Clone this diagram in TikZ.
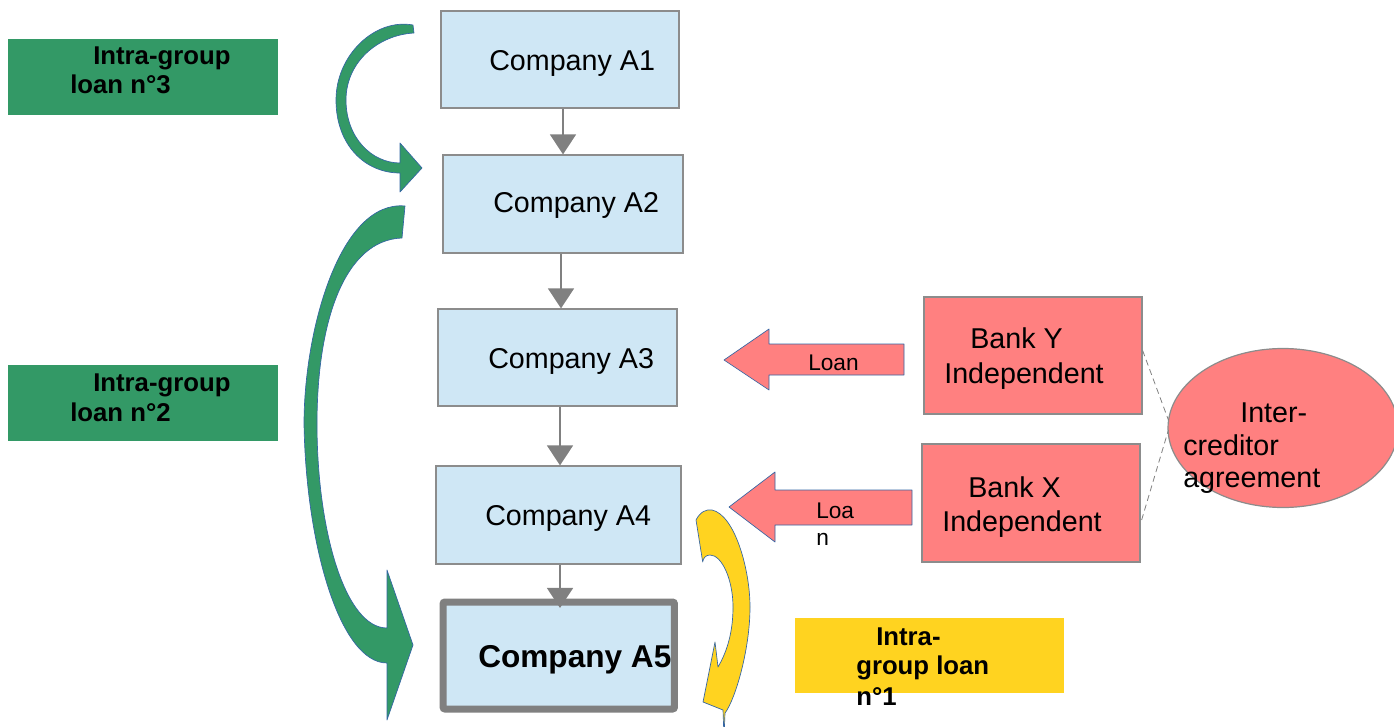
\documentclass[tikz,border=0pt]{standalone}
\usepackage{fontspec}
\setmainfont{Liberation Sans}
\usetikzlibrary{arrows.meta,shapes.geometric,calc}
\definecolor{compfill}{HTML}{CFE7F5}
\definecolor{boxline}{HTML}{8C8C8C}
\definecolor{flowgray}{HTML}{808080}
\definecolor{loangreen}{HTML}{339966}
\definecolor{bankred}{HTML}{FF8080}
\definecolor{loanyellow}{HTML}{FFD320}
\definecolor{shapeline}{HTML}{3465A4}

\begin{document}
\begin{tikzpicture}[x=0.75pt,y=-0.75pt,
  company/.style={draw=boxline, line width=0.9pt, fill=compfill, inner sep=0pt},
  bank/.style={draw=boxline, line width=0.9pt, fill=bankred, inner sep=0pt},
  tagbox/.style={inner sep=0pt, outer sep=0pt},
  txt/.style={anchor=base west, inner sep=0pt, font=\fontsize{21.5pt}{25pt}\selectfont},
  boldtxt/.style={anchor=base west, inner sep=0pt, font=\fontsize{23.7pt}{28pt}\selectfont\bfseries},
  tagtxt/.style={anchor=base west, inner sep=0pt, font=\fontsize{19.3pt}{22pt}\selectfont\bfseries},
  loantxt/.style={anchor=base west, inner sep=0pt, font=\fontsize{17pt}{20pt}\selectfont},
  flow/.style={draw=flowgray, line width=1.1pt, -{Triangle[width=19.5pt,length=15pt]}},
  bigarrow/.style={draw=shapeline, line width=0.5pt, line join=round},
  intercred/.style={draw=flowgray, line width=0.6pt, dash pattern=on 4.5pt off 3pt},
]
\useasboundingbox (0,0) rectangle (1394,727);

% intra-group loan labels
\node[tagbox, fill=loangreen, minimum width=202.5pt, minimum height=57pt] (tag3) at (143,77) {};
\node[tagtxt] (tag3a) at (93,65) {Intra-group};
\node[tagtxt] (tag3b) at (70,93.3) {loan n°3};
\node[tagbox, fill=loangreen, minimum width=202.5pt, minimum height=57pt] (tag2) at (143,403) {};
\node[tagtxt] (tag2a) at (93,391.7) {Intra-group};
\node[tagtxt] (tag2b) at (70,421.7) {loan n°2};
\node[tagbox, fill=loanyellow, minimum width=201.75pt, minimum height=56.25pt] (tag1) at (929.5,655.5) {};
\node[tagtxt] (tag1a) at (876,645) {Intra-};
\node[tagtxt] (tag1b) at (856,674) {group loan};
\node[tagtxt] (tag1c) at (856,705) {n°1};

% curved intra-group loan arrows
\path[bigarrow, fill=loangreen]
  (413,25) .. controls (375,18) and (336,55) .. (336,100)
  .. controls (336,145) and (365,173) .. (400,173)
  -- (400,192) -- (422,168) -- (400,143) -- (400,163)
  .. controls (372,163) and (346,138) .. (346,100)
  .. controls (346,62) and (378,35) .. (414,33) -- cycle;
\path[bigarrow, fill=loangreen]
  (405,206) .. controls (340,200) and (304,330) .. (304,424)
  .. controls (306,545) and (340,663) .. (387,663)
  -- (387,720) -- (413,645) -- (387,570) -- (387,628)
  .. controls (345,628) and (317,530) .. (317,424)
  .. controls (317,320) and (345,240) .. (402,238) -- cycle;
\path[bigarrow, fill=loanyellow]
  (696,520) .. controls (700,512) and (706,509) .. (712,510)
  .. controls (735,515) and (750,570) .. (750,607)
  .. controls (750,650) and (735,700) .. (725,713)
  -- (724,738) -- (723,710) -- (703,702) -- (715,642) -- (718,667)
  .. controls (728,650) and (733,630) .. (733,607)
  .. controls (733,580) and (722,555) .. (710,555)
  .. controls (706,555) and (703,558) .. (702.7,562) -- cycle;

% companies
\node[company, minimum width=178.5pt, minimum height=72.75pt] (a1) at (560,59.5) {};
\node[txt] (a1t) at (489,71) {Company A1};
\node[company, minimum width=180pt, minimum height=73.5pt] (a2) at (563,204) {};
\node[txt] (a2t) at (493,213) {Company A2};
\node[company, minimum width=179.25pt, minimum height=72.75pt] (a3) at (557.5,357.5) {};
\node[txt] (a3t) at (488,368) {Company A3};
\node[company, minimum width=183.75pt, minimum height=73.5pt] (a4) at (558.5,515) {};
\node[txt] (a4t) at (485,525) {Company A4};
\node[company, draw=flowgray, line width=5.25pt, rounded corners=1.5pt,
      minimum width=173.6pt, minimum height=80.25pt] (a5) at (558.75,655.5) {};
\node[boldtxt] (a5t) at (478,667) {Company A5};

\draw[flow] (a1.south -| a2.north) -- (a2.north);
\draw[flow] ([xshift=-1.5pt]a2.south) -- ([xshift=-1.5pt]a2.south |- a3.north);
\draw[flow] ([xshift=1.875pt]a3.south) -- ([xshift=1.875pt]a3.south |- a4.north);
\draw[flow, shorten >=-7.1pt] ([xshift=1.125pt]a4.south) -- ([xshift=1.125pt]a4.south |- a5.north);

% banks and their loans
\node[bank, minimum width=163.5pt, minimum height=87.75pt] (bky) at (1033,355.5) {};
\node[txt] (bkya) at (970,348) {Bank Y};
\node[txt] (bkyb) at (944,383) {Independent};
\node[bank, minimum width=163.5pt, minimum height=88.5pt] (bkx) at (1031,503) {};
\node[txt] (bkxa) at (968,497) {Bank X};
\node[txt] (bkxb) at (942,531) {Independent};

\path[bigarrow, fill=bankred]
  (724,360) -- (769,329) -- (769,344) -- (904,344) -- (904,375) -- (769,375) -- (769,390) -- cycle;
\node[loantxt] (loany) at (808,370.7) {Loan};
\path[bigarrow, fill=bankred]
  (729,507) -- (775,472) -- (775,490) -- (912,490) -- (912,525) -- (775,525) -- (775,542) -- cycle;
\node[loantxt] (loanxa) at (816,518) {Loa};
\node[loantxt] (loanxb) at (816,545) {n};

% inter-creditor agreement
\node[ellipse, draw=boxline, line width=0.9pt, fill=bankred, inner sep=0pt,
      minimum width=172.5pt, minimum height=119.25pt] (icr) at (1283,428) {};
\node[txt] (icra) at (1240,422) {Inter-};
\node[txt] (icrb) at (1183,455) {creditor};
\node[txt] (icrc) at (1183,487) {agreement};
\draw[intercred] ($(bky.east)+(0,-5)$) -- ($(icr.west)+(1,-8)$);
\draw[intercred] ($(bkx.east)+(1,17)$) -- ($(icr.west)+(1,2)$);
\end{tikzpicture}
\end{document}
